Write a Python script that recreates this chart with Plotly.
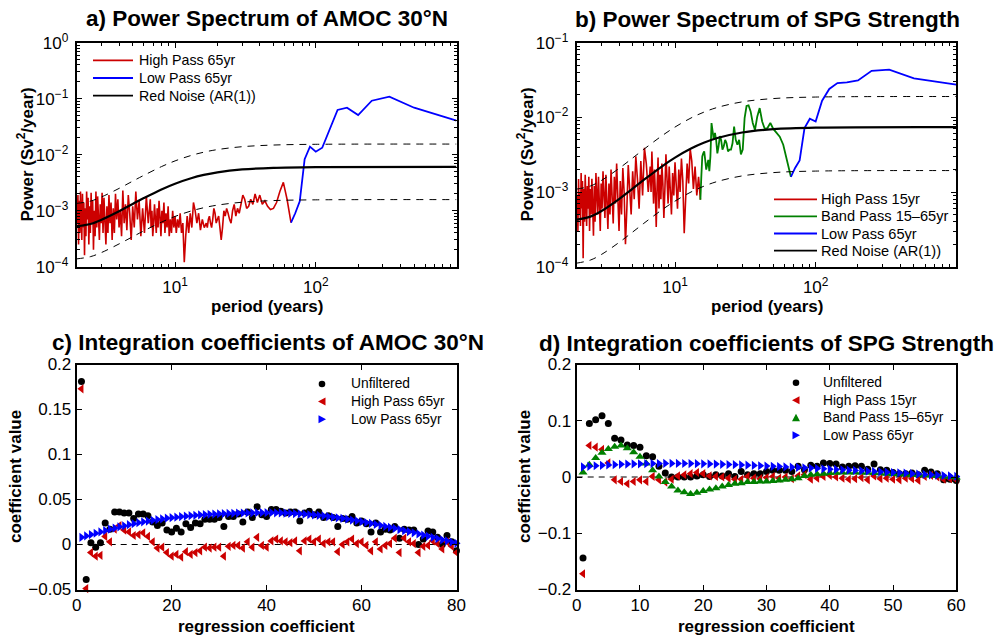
import plotly.graph_objects as go

N_YEARS = 1000  # length of the series; period = N_YEARS / k

# ---------------- panel a : AMOC 30N power spectrum ----------------
A_HP_K = list(range(15, 61)) + list(range(62, 151, 2)) + list(range(155, 501, 5))
A_HP_POWER = [
    6.1e-4, 1.6e-3, 3.2e-3, 2.2e-3, 1.4e-3, 1.1e-3, 1.05e-3, 1.2e-3, 1.5e-3, 1.3e-3,
    1.9e-3, 1.4e-3, 2.0e-3, 1.3e-3, 1.6e-3, 1.2e-3, 1.1e-3, 1.6e-3, 1.9e-3, 1.3e-3,
    9e-4, 1.1e-3, 8e-4, 1.3e-3, 1.0e-3, 6e-4, 7e-4, 9e-4, 1.1e-3, 8e-4,
    1.0e-3, 5e-4, 3e-4, 5e-4, 8e-4, 7e-4, 6e-4, 9e-4, 1.1e-3, 7e-4,
    5e-4, 6e-4, 8e-4, 7e-4, 5e-4, 6e-4,
    5e-4, 7e-4, 4.5e-4, 9e-4, 6e-4, 1.0e-3, 1.4e-3, 5e-4, 9e-4, 4e-4,
    8e-4, 3.5e-4, 1.2e-4, 6e-4, 4e-4, 9e-4, 5e-4, 7e-4, 4e-4, 8e-4,
    5e-4, 1.0e-3, 4e-4, 7e-4, 3.5e-4, 1.2e-3, 5e-4, 9e-4, 4e-4, 1.4e-3,
    6e-4, 1.0e-3, 3.5e-4, 8e-4, 1.5e-3, 5e-4, 1.1e-3, 4e-4, 9e-4, 1.3e-3,
    6e-4, 3.5e-4, 1.0e-3, 5e-4, 1.6e-3,
    6e-4, 1.8e-3, 4e-4, 1.1e-3, 3.5e-4, 1.5e-3, 7e-4, 2.2e-3, 5e-4, 1.2e-3,
    3e-4, 9e-4, 1.9e-3, 4.5e-4, 1.3e-3, 6e-4, 2.3e-3, 3.5e-4, 1.0e-3, 5e-4,
    1.6e-3, 7e-4, 2.0e-3, 4e-4, 1.1e-3, 3e-4, 1.4e-3, 6e-4, 1.9e-3, 4e-4,
    1.2e-3, 2.5e-4, 8e-4, 1.7e-3, 4e-4, 2.1e-3, 6e-4, 1.3e-3, 3e-4, 9e-4,
    1.8e-3, 5e-4, 2.2e-3, 3.5e-4, 1.0e-3, 2.0e-4, 1.5e-3, 6e-4, 2.1e-3, 4e-4,
    1.2e-3, 2.5e-4, 1.7e-3, 7e-4, 2.2e-3, 3.5e-4, 1.1e-3, 1.6e-4, 1.4e-3, 5e-4,
    2.0e-3, 3e-4, 9e-4, 2.2e-3, 4e-4, 1.5e-3, 2.5e-4, 1.9e-3, 6e-4, 1.0e-3,
]
A_LP_K = list(range(1, 16))
A_LP_POWER = [4.05e-2, 6.9e-2, 1.09e-1, 9.2e-2, 5.1e-2, 6.9e-2, 6.3e-2, 2.7e-2,
              1.33e-2, 1.13e-2, 1.39e-2, 8.3e-3, 1.47e-3, 9e-4, 6.1e-4]

RN_PERIOD = [2, 2.5, 3, 4, 5, 6, 8, 10, 13, 16, 20, 30, 50, 100, 1000]
A_RN = [5.3e-4, 5.8e-4, 6.9e-4, 9.8e-4, 1.32e-3, 1.68e-3, 2.40e-3, 3.04e-3,
        3.80e-3, 4.35e-3, 4.84e-3, 5.45e-3, 5.83e-3, 6.01e-3, 6.07e-3]
A_RN_UP = [1.35e-3, 1.48e-3, 1.76e-3, 2.50e-3, 3.37e-3, 4.28e-3, 6.12e-3, 7.75e-3,
           9.69e-3, 1.109e-2, 1.234e-2, 1.39e-2, 1.487e-2, 1.533e-2, 1.548e-2]
A_RN_LO = [1.38e-4, 1.51e-4, 1.79e-4, 2.55e-4, 3.43e-4, 4.37e-4, 6.24e-4, 7.9e-4,
           9.88e-4, 1.131e-3, 1.258e-3, 1.417e-3, 1.516e-3, 1.563e-3, 1.578e-3]

# ---------------- panel b : SPG strength power spectrum ----------------
B_HP_K = list(range(66, 151, 2)) + list(range(155, 501, 5))
B_HP_POWER = [
    7.9e-4, 1.6e-3, 9e-4, 2.2e-3, 1.1e-3, 2.6e-3, 3.8e-3, 1.3e-3, 2.4e-3, 8e-4,
    2.8e-4, 1.4e-3, 2.8e-3, 1.0e-3, 2.0e-3, 6e-4, 1.6e-3, 2.5e-3, 9e-4, 1.8e-3,
    5e-4, 1.2e-3, 2.2e-3, 7e-4, 1.5e-3, 3.2e-3, 1.1e-3, 4.5e-4, 1.3e-3, 2.4e-3,
    8e-4, 1.7e-3, 6e-4, 2.9e-3, 1.2e-3, 3.4e-4, 1.0e-3, 2.0e-3, 7e-4, 1.5e-3,
    3.5e-3, 1.0e-3, 2.2e-3,
    1.0e-3, 2.4e-3, 3.9e-3, 9e-4, 2.6e-3, 6e-4, 1.5e-3, 3.0e-3, 8e-4, 1.9e-3,
    5e-4, 1.2e-3, 2.3e-3, 6e-4, 2.0e-4, 1.0e-3, 2.1e-3, 5e-4, 1.4e-3, 3.0e-4,
    1.1e-3, 2.4e-3, 7e-4, 1.6e-3, 3.8e-4, 1.0e-3, 2.0e-3, 5e-4, 1.3e-3, 3.2e-4,
    9e-4, 1.7e-3, 4.5e-4, 1.2e-3, 1.9e-3, 6e-4, 1.3e-3, 3.0e-4, 8e-4, 1.6e-3,
    5e-4, 1.1e-3, 1.8e-3, 4e-4, 1.2e-3, 2.6e-4, 9e-4, 1.5e-3, 5e-4, 1.1e-3,
    3e-4, 1.6e-3, 6e-4, 1.2e-3, 3.5e-4, 9e-4, 1.7e-3, 4e-4, 1.1e-3, 1.3e-4,
    1.4e-3, 6e-4, 1.8e-3, 3.5e-4, 1.0e-3, 5e-4, 1.5e-3, 3e-4, 9e-4, 6e-4,
]
B_BP_K = list(range(15, 67))
B_BP_POWER = [
    1.6e-3, 2.7e-3, 4.3e-3, 5.5e-3, 6.3e-3, 7.0e-3, 8.4e-3, 7.2e-3, 7.0e-3, 8.8e-3,
    1.33e-2, 1.03e-2, 6.8e-3, 8.4e-3, 1.20e-2, 1.45e-2, 1.42e-2, 9.8e-3, 3.7e-3, 3.2e-3,
    5.0e-3, 4.3e-3, 5.0e-3, 7.5e-3, 4.5e-3, 3.7e-3, 3.7e-3, 3.5e-3, 4.5e-3, 5.0e-3,
    4.1e-3, 3.7e-3, 5.0e-3, 5.6e-3, 4.1e-3, 3.3e-3, 5.0e-3, 6.2e-3, 5.0e-3, 6.8e-3,
    8.4e-3, 3.0e-3, 1.9e-3, 2.7e-3, 2.2e-3, 2.0e-3, 2.7e-3, 3.5e-3, 3.3e-3, 3.0e-3,
    1.6e-3, 7.9e-4,
]
B_LP_K = list(range(1, 16))
B_LP_POWER = [2.74e-2, 3.33e-2, 4.35e-2, 4.2e-2, 3.13e-2, 2.94e-2, 2.88e-2, 2.40e-2,
              1.67e-2, 8.8e-3, 9.6e-3, 7.2e-3, 2.65e-3, 2.1e-3, 1.6e-3]
B_RN = [4.26e-4, 4.68e-4, 5.57e-4, 8.06e-4, 1.112e-3, 1.453e-3, 2.178e-3, 2.886e-3,
        3.819e-3, 4.559e-3, 5.283e-3, 6.273e-3, 6.951e-3, 7.282e-3, 7.398e-3]
B_RN_UP = [1.095e-3, 1.203e-3, 1.431e-3, 2.071e-3, 2.858e-3, 3.734e-3, 5.597e-3, 7.417e-3,
           9.815e-3, 1.172e-2, 1.358e-2, 1.612e-2, 1.786e-2, 1.871e-2, 1.901e-2]
B_RN_LO = [1.116e-4, 1.226e-4, 1.459e-4, 2.112e-4, 2.913e-4, 3.807e-4, 5.706e-4, 7.561e-4,
           1.0006e-3, 1.1945e-3, 1.384e-3, 1.6435e-3, 1.821e-3, 1.908e-3, 1.938e-3]

# ---------------- panel c : integration coefficients AMOC ----------------
C_K = list(range(1, 81))
C_UNF = [
    0.181, -0.039, 0.002, -0.003, 0.002, 0.024, 0.017, 0.036, 0.036, 0.035,
    0.035, 0.029, 0.034, 0.034, 0.032, 0.025, 0.021, 0.024, 0.016, 0.014,
    0.018, 0.014, 0.023, 0.019, 0.024, 0.023, 0.028, 0.028, 0.028, 0.030,
    0.020, 0.031, 0.031, 0.034, 0.025, 0.036, 0.030, 0.042, 0.033, 0.031,
    0.039, 0.039, 0.037, 0.035, 0.036, 0.036, 0.026, 0.035, 0.037, 0.033,
    0.036, 0.030, 0.032, 0.030, 0.020, 0.029, 0.028, 0.031, 0.024, 0.026,
    0.023, 0.014, 0.024, 0.014, 0.017, 0.016, 0.020, 0.007, 0.017, 0.016,
    0.016, 0.000, 0.006, 0.015, 0.014, 0.008, 0.000, 0.010, 0.003, -0.007,
]
C_HP = [
    0.173, -0.049, -0.009, -0.013, -0.012, 0.009, 0.003, 0.017, 0.021, 0.016,
    0.014, 0.010, 0.011, 0.013, 0.009, 0.003, -0.004, -0.003, -0.009, -0.013,
    -0.011, -0.014, -0.008, -0.011, -0.009, -0.007, -0.003, -0.004, -0.003, -0.003,
    -0.013, -0.002, -0.001, -0.001, -0.004, 0.003, -0.003, 0.008, -0.001, -0.003,
    0.004, 0.006, 0.004, 0.003, 0.002, 0.004, -0.007, 0.004, 0.006, 0.003,
    0.006, 0.001, 0.003, 0.003, -0.008, 0.000, 0.003, 0.006, 0.001, 0.003,
    -0.001, -0.007, 0.003, -0.005, -0.001, 0.001, 0.007, -0.009, 0.007, 0.003,
    0.001, -0.009, -0.002, -0.001, 0.004, 0.001, -0.005, 0.003, -0.002, -0.009,
]
C_LP = [
    0.008, 0.0095, 0.011, 0.0125, 0.014, 0.0155, 0.017, 0.0183, 0.0196, 0.0208,
    0.022, 0.0231, 0.0242, 0.0252, 0.0261, 0.0269, 0.0277, 0.0285, 0.0292, 0.0298,
    0.0304, 0.031, 0.0315, 0.032, 0.0324, 0.0328, 0.0332, 0.0335, 0.0338, 0.0341,
    0.0343, 0.0345, 0.0347, 0.0349, 0.035, 0.0351, 0.0352, 0.0353, 0.0353, 0.0353,
    0.0353, 0.0352, 0.0351, 0.0349, 0.0347, 0.0344, 0.0341, 0.0337, 0.0333, 0.0328,
    0.0323, 0.0317, 0.0311, 0.0304, 0.0297, 0.0289, 0.0281, 0.0272, 0.0263, 0.0254,
    0.0244, 0.0234, 0.0223, 0.0212, 0.0201, 0.019, 0.0178, 0.0166, 0.0154, 0.0142,
    0.013, 0.0117, 0.0104, 0.0091, 0.0078, 0.0065, 0.0052, 0.0039, 0.0026, 0.0013,
]

# ---------------- panel d : integration coefficients SPG ----------------
D_K = list(range(1, 61))
D_UNF = [
    -0.144, 0.095, 0.102, 0.109, 0.095, 0.069, 0.066, 0.057, 0.056, 0.053,
    0.038, 0.036, 0.019, 0.007, 0.000, 0.000, 0.000, 0.000, 0.002, 0.004,
    0.001, 0.004, 0.002, 0.006, 0.001, 0.010, 0.004, 0.006, 0.006, 0.010,
    0.012, 0.012, 0.012, 0.010, 0.019, 0.013, 0.021, 0.019, 0.025, 0.024,
    0.023, 0.018, 0.019, 0.020, 0.019, 0.014, 0.023, 0.013, 0.012, 0.008,
    0.006, 0.006, 0.007, 0.004, 0.012, 0.009, 0.006, -0.005, -0.004, -0.006,
]
D_HP = [
    -0.172, 0.056, 0.053, 0.049, 0.025, -0.005, -0.008, -0.012, -0.008, -0.005,
    -0.008, 0.001, -0.005, -0.009, -0.004, 0.002, 0.004, 0.006, 0.008, 0.006,
    0.002, 0.001, 0.000, -0.002, -0.004, -0.004, 0.001, -0.002, -0.003, -0.001,
    0.001, -0.002, 0.000, -0.003, 0.002, 0.004, -0.004, -0.002, 0.001, 0.003,
    0.000, -0.002, -0.004, -0.003, -0.001, -0.005, 0.002, -0.003, -0.002, -0.004,
    -0.005, -0.002, -0.003, -0.006, 0.001, 0.003, 0.000, -0.004, -0.003, -0.005,
]
D_BP = [
    0.008, 0.022, 0.034, 0.043, 0.050, 0.054, 0.056, 0.051, 0.044, 0.036,
    0.024, 0.012, 0.001, -0.009, -0.017, -0.024, -0.027, -0.030, -0.028, -0.025,
    -0.022, -0.020, -0.017, -0.014, -0.012, -0.011, -0.009, -0.009, -0.008, -0.008,
    -0.007, -0.006, -0.005, -0.004, -0.002, 0.002, 0.004, 0.005, 0.006, 0.007,
    0.0075, 0.008, 0.008, 0.008, 0.0078, 0.0075, 0.007, 0.0065, 0.006, 0.0055,
    0.005, 0.0045, 0.004, 0.0035, 0.003, 0.0025, 0.002, 0.001, 0.000, -0.001,
]
D_LP = [
    0.018, 0.019, 0.020, 0.0208, 0.0215, 0.022, 0.0225, 0.0229, 0.0232, 0.0235,
    0.0237, 0.0239, 0.024, 0.0241, 0.0241, 0.0241, 0.024, 0.0239, 0.0237, 0.0235,
    0.0232, 0.0229, 0.0226, 0.0222, 0.0218, 0.0214, 0.021, 0.0205, 0.020, 0.0195,
    0.019, 0.0185, 0.018, 0.0175, 0.017, 0.0164, 0.0158, 0.0152, 0.0146, 0.014,
    0.0134, 0.0128, 0.0122, 0.0116, 0.011, 0.0104, 0.0098, 0.0092, 0.0086, 0.008,
    0.0074, 0.0067, 0.006, 0.0053, 0.0046, 0.0039, 0.0032, 0.0025, 0.0018, 0.0011,
]

# ---------------- styling ----------------
RED = "#cc0000"
BLUE = "#0000ff"
GREEN = "#008000"
FONT = "Liberation Sans, Arial, Helvetica, sans-serif"
W, H = 998, 637


def periods(ks):
    return [N_YEARS / k for k in ks]


def px_x(p):
    return p / W


def px_y(p):
    return 1 - p / H


fig = go.Figure()


def line_trace(x, y, color, width, xa, ya, dash=None, shape="linear"):
    fig.add_trace(go.Scatter(x=x, y=y, mode="lines", showlegend=False, hoverinfo="skip",
                             line=dict(color=color, width=width, dash=dash, shape=shape),
                             xaxis=xa, yaxis=ya))


def marker_trace(x, y, symbol, size, color, xa, ya):
    fig.add_trace(go.Scatter(x=x, y=y, mode="markers", showlegend=False, cliponaxis=False,
                             marker=dict(symbol=symbol, size=size, color=color, line=dict(width=0)),
                             xaxis=xa, yaxis=ya))


# ---- panel a traces ----
line_trace(periods(A_HP_K), A_HP_POWER, RED, 1.6, "x", "y")
line_trace(periods(A_LP_K), A_LP_POWER, BLUE, 1.8, "x", "y")
line_trace(RN_PERIOD, A_RN, "black", 2.2, "x", "y", shape="spline")
line_trace(RN_PERIOD, A_RN_UP, "black", 1, "x", "y", dash="7px,6px", shape="spline")
line_trace(RN_PERIOD, A_RN_LO, "black", 1, "x", "y", dash="7px,6px", shape="spline")

# ---- panel b traces ----
line_trace(periods(B_HP_K), B_HP_POWER, RED, 1.6, "x2", "y2")
line_trace(periods(B_BP_K), B_BP_POWER, GREEN, 1.8, "x2", "y2")
line_trace(periods(B_LP_K), B_LP_POWER, BLUE, 1.8, "x2", "y2")
line_trace(RN_PERIOD, B_RN, "black", 2.2, "x2", "y2", shape="spline")
line_trace(RN_PERIOD, B_RN_UP, "black", 1, "x2", "y2", dash="7px,6px", shape="spline")
line_trace(RN_PERIOD, B_RN_LO, "black", 1, "x2", "y2", dash="7px,6px", shape="spline")

# ---- panel c traces ----
marker_trace(C_K, C_UNF, "circle", 7, "black", "x3", "y3")
marker_trace(C_K, C_HP, "triangle-left", 8, RED, "x3", "y3")
marker_trace(C_K, C_LP, "triangle-right", 8, BLUE, "x3", "y3")

# ---- panel d traces ----
marker_trace(D_K, D_UNF, "circle", 7, "black", "x4", "y4")
marker_trace(D_K, D_HP, "triangle-left", 8, RED, "x4", "y4")
marker_trace(D_K, D_BP, "triangle-up", 8, GREEN, "x4", "y4")
marker_trace(D_K, D_LP, "triangle-right", 8, BLUE, "x4", "y4")

# ---- axes ----
XL = [px_x(76.7), px_x(456.5)]
XR = [px_x(576.7), px_x(956.3)]
YT = [px_y(266.7), px_y(42.7)]
YB = [px_y(589.5), px_y(364.5)]

common = dict(showline=True, linecolor="black", linewidth=2, mirror="ticks", ticks="inside",
              ticklen=5, tickwidth=1, tickcolor="black", showgrid=False, zeroline=False,
              automargin=False, tickfont=dict(family=FONT, size=17, color="black"))


def sup(e):
    s = str(e).replace("-", "\u2212")
    return "10<sup>" + s + "</sup>"


def minor_log(lo, hi):
    vals = []
    for d in range(lo, hi):
        for m in range(2, 10):
            vals.append(m * 10.0 ** d)
    return vals


log_x = dict(type="log", range=[0.30103, 3.0], tickmode="array", tickvals=[10, 100],
             ticktext=[sup(1), sup(2)], ticklabelstandoff=4,
             minor=dict(tickmode="array", tickvals=minor_log(0, 3), ticks="inside", ticklen=3,
                        tickcolor="black", showgrid=False))

fig.update_layout(
    xaxis=dict(domain=XL, anchor="y", **log_x, **common),
    yaxis=dict(domain=YT, anchor="x", type="log", range=[-4, 0], tickmode="array",
               tickvals=[1e-4, 1e-3, 1e-2, 1e-1, 1], ticktext=[sup(-4), sup(-3), sup(-2), sup(-1), sup(0)],
               ticklabelstandoff=3,
               minor=dict(tickmode="array", tickvals=minor_log(-4, 0), ticks="inside", ticklen=3,
                          tickcolor="black", showgrid=False),
               **common),
    xaxis2=dict(domain=XR, anchor="y2", **log_x, **common),
    yaxis2=dict(domain=YT, anchor="x2", type="log", range=[-4, -1], tickmode="array",
                tickvals=[1e-4, 1e-3, 1e-2, 1e-1], ticktext=[sup(-4), sup(-3), sup(-2), sup(-1)],
                ticklabelstandoff=3,
                minor=dict(tickmode="array", tickvals=minor_log(-4, -1), ticks="inside", ticklen=3,
                           tickcolor="black", showgrid=False),
                **common),
    xaxis3=dict(domain=XL, anchor="y3", range=[0, 80], tickmode="array", tickvals=[0, 20, 40, 60, 80],
                ticklabelstandoff=-1, **common),
    yaxis3=dict(domain=YB, anchor="x3", range=[-0.05, 0.2], tickmode="array",
                tickvals=[-0.05, 0, 0.05, 0.1, 0.15, 0.2],
                ticktext=["\u22120.05", "0", "0.05", "0.1", "0.15", "0.2"], **common),
    xaxis4=dict(domain=XR, anchor="y4", range=[0, 60], tickmode="array",
                tickvals=[0, 10, 20, 30, 40, 50, 60], ticklabelstandoff=-1, **common),
    yaxis4=dict(domain=YB, anchor="x4", range=[-0.2, 0.2], tickmode="array",
                tickvals=[-0.2, -0.1, 0, 0.1, 0.2],
                ticktext=["\u22120.2", "\u22120.1", "0", "0.1", "0.2"], **common),
)

# zero reference lines in c and d
for xr, yr in (("x3", "y3"), ("x4", "y4")):
    fig.add_shape(type="line", xref=xr + " domain", yref=yr, x0=0, x1=1, y0=0, y1=0,
                  line=dict(color="black", width=1, dash="6px,5px"), layer="below")

# ---- legends (drawn as keys + text, MATLAB style, no box) ----
LEG_A = [("High Pass 65yr", RED), ("Low Pass 65yr", BLUE), ("Red Noise (AR(1))", "black")]
LEG_B = [("High Pass 15yr", RED), ("Band Pass 15\u201365yr", GREEN), ("Low Pass 65yr", BLUE),
         ("Red Noise (AR(1))", "black")]
LEG_C = [("Unfiltered", "circle", "black"), ("High Pass 65yr", "left", RED), ("Low Pass 65yr", "right", BLUE)]
LEG_D = [("Unfiltered", "circle", "black"), ("High Pass 15yr", "left", RED),
         ("Band Pass 15\u201365yr", "up", GREEN), ("Low Pass 65yr", "right", BLUE)]


def leg_text(text, x, y, size):
    fig.add_annotation(text=text, x=px_x(x), y=px_y(y), xref="paper", yref="paper",
                       xanchor="left", yanchor="middle", showarrow=False,
                       font=dict(family=FONT, size=size, color="black"))


def line_legend(entries, x0, x1, xt, y0, dy, size):
    for i, (label, color) in enumerate(entries):
        yy = y0 + i * dy
        fig.add_shape(type="line", xref="paper", yref="paper", x0=px_x(x0), x1=px_x(x1),
                      y0=px_y(yy), y1=px_y(yy), line=dict(color=color, width=1.8))
        leg_text(label, xt, yy, size)


TRI = {
    "left": "M -4,0 L 3.5,4 L 3.5,-4 Z",
    "right": "M 4,0 L -3.5,4 L -3.5,-4 Z",
    "up": "M 0,4 L -4,-3.5 L 4,-3.5 Z",
}


def marker_legend(entries, xm, xt, y0, dy, size):
    for i, (label, kind, color) in enumerate(entries):
        yy = y0 + i * dy
        base = dict(xref="paper", yref="paper", xsizemode="pixel", ysizemode="pixel",
                    xanchor=px_x(xm), yanchor=px_y(yy), fillcolor=color, line=dict(width=0))
        if kind == "circle":
            fig.add_shape(type="circle", x0=-3.3, x1=3.3, y0=-3.3, y1=3.3, **base)
        else:
            fig.add_shape(type="path", path=TRI[kind], **base)
        leg_text(label, xt, yy, size)


line_legend(LEG_A, 93, 133, 137, 60.3, 17.7, 14.2)
line_legend(LEG_B, 774, 817, 819, 199.3, 17.1, 14.6)
marker_legend(LEG_C, 322, 349, 384, 17.6, 13.8)
marker_legend(LEG_D, 796, 821, 382.7, 17.5, 13.8)

# ---- titles / axis labels as annotations ----
TITLE_FONT = dict(family=FONT, size=22.5, color="black")
LABEL_FONT = dict(family=FONT, size=17, color="black")
annots = [
    ("<b>a) Power Spectrum of AMOC 30\u00b0N</b>", 267, 18.5, 0, TITLE_FONT),
    ("<b>b) Power Spectrum of SPG Strength</b>", 767, 19.5, 0, TITLE_FONT),
    ("<b>c) Integration coefficients of AMOC 30\u00b0N</b>", 267.5, 342, 0, TITLE_FONT),
    ("<b>d) Integration coefficients of SPG Strength</b>", 766, 343, 0, TITLE_FONT),
    ("<b>period (years)</b>", 266.5, 306, 0, LABEL_FONT),
    ("<b>period (years)</b>", 766.5, 306, 0, LABEL_FONT),
    ("<b>regression coefficient</b>", 266, 626, 0, LABEL_FONT),
    ("<b>regression coefficient</b>", 766, 626, 0, LABEL_FONT),
    ("<b>Power (Sv<sup>2</sup>/year)</b>", 25.5, 155, -90, LABEL_FONT),
    ("<b>Power (Sv<sup>2</sup>/year)</b>", 525.5, 155, -90, LABEL_FONT),
    ("<b>coefficient value</b>", 15, 477, -90, LABEL_FONT),
    ("<b>coefficient value</b>", 524, 477, -90, LABEL_FONT),
]
for text, ax_, ay_, ang, fnt in annots:
    fig.add_annotation(text=text, x=px_x(ax_), y=px_y(ay_), xref="paper", yref="paper",
                       xanchor="center", yanchor="middle", showarrow=False, textangle=ang, font=fnt)

fig.update_layout(width=W, height=H, margin=dict(l=0, r=0, t=0, b=0), showlegend=False,
                  paper_bgcolor="white", plot_bgcolor="white", font=dict(family=FONT, color="black"))

fig.write_html("out.html", config={"displayModeBar": False},
               post_script="document.body.style.margin='0px';")
